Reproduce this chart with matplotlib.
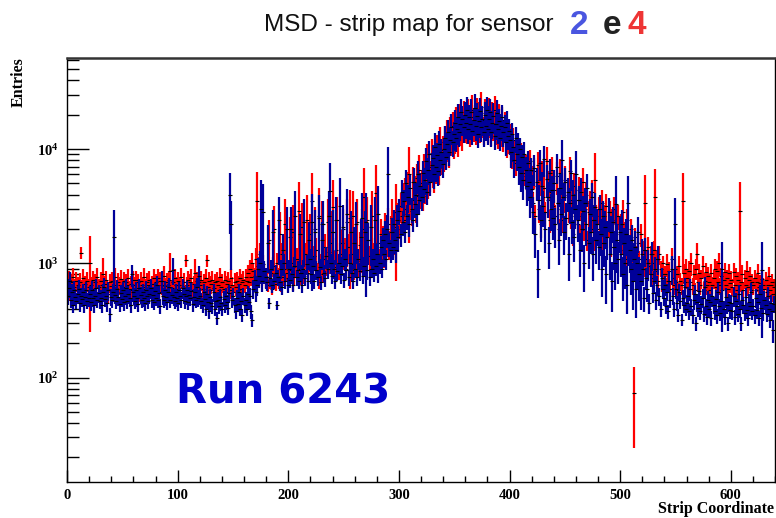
import numpy as np
import matplotlib
matplotlib.use('Agg')
import matplotlib.pyplot as plt
from matplotlib.ticker import LogLocator, FuncFormatter, MultipleLocator, NullFormatter

# entries per strip, sensor 2 (blue)
sensor2_entries = [
    520, 610, 700, 480, 560, 430, 590, 510, 470, 540, 600, 450, 520, 490, 560, 430, 510, 580, 470, 500,
    540, 460, 590, 500, 430, 520, 610, 480, 550, 470, 500, 430, 560, 620, 490, 520, 450, 580, 360, 510,
    480, 560, 1700, 530, 470, 600, 510, 440, 550, 490, 580, 460, 520, 610, 470, 540, 500, 430, 800, 560,
    520, 470, 580, 500, 440, 610, 530, 480, 560, 500, 450, 590, 520, 470, 540, 610, 480, 530, 460, 570,
    500, 640, 480, 550, 420, 700, 520, 480, 590, 510, 460, 560, 620, 480, 530, 880, 510, 470, 560, 500,
    450, 580, 520, 480, 610, 540, 470, 520, 590, 460, 530, 500, 570, 440, 510, 560, 480, 620, 500, 780,
    520, 470, 430, 560, 490, 400, 540, 460, 380, 510, 450, 420, 560, 400, 470, 330, 480, 420, 510, 450,
    400, 490, 430, 520, 460, 410, 550, 4000, 2200, 480, 520, 430, 380, 500, 440, 560, 400, 470, 350, 520,
    430, 480, 400, 540, 460, 520, 380, 320, 600, 720, 560, 650, 900, 780, 1000, 3000, 700, 2800, 850, 760,
    680, 1500, 450, 750, 900, 640, 1900, 700, 820, 430, 760, 2400, 680, 900, 620, 1300, 1000, 700, 2000, 640,
    900, 720, 2000, 800, 650, 950, 2600, 760, 880, 700, 1800, 820, 640, 900, 2300, 750, 980, 700, 1600, 1100,
    800, 2300, 950, 700, 1900, 880, 760, 2500, 920, 680, 1600, 2200, 820, 740, 1150, 900, 2600, 4300, 1000, 780,
    1900, 900, 700, 2400, 850, 1000, 3200, 800, 950, 2100, 720, 1100, 880, 2700, 760, 1000, 1900, 820, 700, 1500,
    900, 2200, 760, 1100, 850, 1700, 2500, 780, 950, 1900, 2300, 880, 1600, 760, 2100, 900, 1100, 820, 2400, 950,
    1200, 2700, 1000, 1400, 900, 1600, 1200, 1800, 1100, 2000, 6000, 1500, 1300, 1900, 1400, 2200, 1600, 1300, 2400, 1700,
    2900, 1800, 4200, 2300, 3500, 1900, 5000, 2600, 3800, 2200, 4600, 3000, 2400, 5200, 3300, 4000, 2700, 6000, 3600, 4800,
    3800, 6200, 4500, 5400, 7800, 4200, 6600, 9000, 5200, 7200, 8400, 6000, 10500, 7000, 8800, 6400, 11000, 8000, 9500, 7400,
    10000, 12500, 8600, 11000, 14000, 9500, 12000, 15500, 11500, 13500, 17000, 12500, 15000, 19000, 14000, 16500, 21000, 18500, 15500, 20000,
    17000, 22000, 15000, 19000, 16500, 21000, 14500, 18000, 23000, 16000, 19500, 13500, 17500, 21500, 15500, 18500, 14000, 20000, 16000, 22000,
    15000, 18500, 21000, 14000, 17000, 19500, 13000, 16500, 20500, 15000, 17500, 12500, 16000, 19000, 14000, 15500, 11500, 17000, 13000, 14500,
    12000, 9500, 13500, 10500, 8000, 12500, 9000, 11000, 7000, 10000, 6200, 8500, 5400, 9000, 6500, 4800, 7500, 5200, 3800, 6500,
    4500, 2800, 6800, 1800, 5200, 900, 3600, 7500, 2400, 4800, 3200, 8200, 2000, 5500, 3800, 1500, 6200, 3000, 4400, 2500,
    5000, 2200, 7000, 3400, 1600, 4600, 2700, 8000, 3800, 1900, 5200, 2500, 4200, 1200, 3400, 6200, 2300, 4000, 1700, 3000,
    6000, 2400, 3600, 1300, 4200, 2000, 2900, 1000, 3400, 2200, 4600, 1500, 2700, 1900, 3800, 1200, 2400, 3100, 1600, 2200,
    1400, 3000, 1800, 900, 2600, 1500, 2100, 800, 1700, 2800, 1200, 1900, 700, 2300, 1400, 1000, 3300, 1600, 1100, 1900,
    1200, 2200, 800, 1500, 1000, 1800, 650, 3400, 1300, 900, 1600, 700, 1100, 1400, 600, 1000, 1900, 800, 700, 1200,
    900, 500, 1300, 750, 600, 1000, 450, 800, 1200, 550, 700, 900, 480, 650, 1100, 520, 400, 750, 600, 500,
    650, 420, 560, 380, 700, 480, 900, 520, 400, 2200, 600, 450, 350, 560, 470, 320, 500, 430, 620, 400,
    450, 520, 380, 600, 420, 350, 480, 540, 300, 460, 410, 570, 380, 440, 500, 360, 620, 420, 340, 480,
    400, 460, 330, 520, 430, 380, 490, 350, 560, 420, 370, 470, 900, 400, 340, 510, 430, 300, 460, 390,
    450, 380, 520, 340, 470, 420, 360, 540, 400, 300, 480, 430, 370, 510, 390, 330, 460, 420, 560, 380,
    420, 350, 500, 390, 460, 330, 540, 410, 880, 370, 480, 430, 360, 520, 400, 320, 450, 380, 260, 440,
]
# relative error per strip (percent), sensor 2
sensor2_err_pct = [
    17, 19, 20, 16, 18, 15, 19, 17, 16, 18, 19, 16, 17, 16, 18, 15, 17, 19, 16, 17,
    18, 16, 19, 17, 15, 17, 20, 16, 18, 16, 17, 15, 18, 20, 16, 17, 16, 19, 14, 17,
    16, 18, 72, 17, 16, 19, 17, 15, 18, 16, 19, 16, 17, 20, 16, 18, 17, 15, 22, 18,
    17, 16, 19, 17, 15, 20, 17, 16, 18, 17, 15, 19, 17, 16, 18, 20, 16, 17, 15, 18,
    16, 20, 16, 18, 15, 22, 17, 16, 19, 17, 15, 18, 20, 16, 17, 26, 17, 16, 18, 17,
    15, 19, 17, 16, 20, 18, 16, 17, 19, 15, 17, 16, 18, 15, 17, 18, 16, 20, 17, 22,
    17, 16, 15, 18, 16, 14, 18, 15, 14, 17, 15, 15, 18, 14, 16, 13, 16, 15, 17, 15,
    14, 16, 15, 17, 15, 14, 18, 55, 60, 16, 17, 15, 14, 16, 15, 18, 14, 16, 13, 17,
    15, 16, 14, 18, 15, 17, 14, 13, 19, 22, 18, 20, 24, 22, 28, 78, 20, 75, 23, 21,
    15, 45, 11, 17, 19, 14, 55, 15, 18, 10, 16, 60, 15, 19, 14, 40, 21, 15, 55, 14,
    19, 15, 55, 17, 14, 20, 65, 16, 18, 15, 50, 17, 14, 19, 60, 16, 20, 15, 45, 22,
    17, 75, 20, 15, 55, 18, 16, 60, 19, 14, 45, 60, 17, 16, 22, 19, 65, 76, 20, 16,
    55, 19, 15, 60, 18, 20, 75, 17, 19, 55, 15, 22, 18, 65, 16, 20, 50, 17, 15, 40,
    18, 55, 16, 21, 18, 45, 65, 16, 19, 50, 78, 18, 40, 16, 55, 18, 22, 17, 60, 19,
    22, 75, 19, 25, 18, 28, 22, 30, 20, 32, 75, 24, 22, 30, 23, 32, 25, 22, 34, 26,
    26, 22, 28, 24, 26, 21, 30, 24, 27, 22, 29, 25, 22, 31, 25, 27, 23, 32, 26, 28,
    24, 28, 25, 26, 30, 23, 27, 32, 25, 28, 29, 26, 32, 27, 29, 25, 30, 27, 28, 25,
    26, 28, 24, 27, 29, 25, 27, 30, 26, 28, 30, 25, 27, 31, 26, 28, 31, 29, 27, 30,
    28, 31, 26, 29, 27, 30, 25, 28, 32, 26, 29, 24, 28, 31, 26, 29, 25, 30, 27, 31,
    27, 29, 31, 25, 28, 30, 24, 27, 30, 26, 28, 23, 27, 29, 25, 27, 24, 28, 25, 26,
    26, 28, 25, 27, 30, 26, 29, 27, 31, 26, 32, 28, 33, 27, 31, 34, 28, 32, 35, 29,
    32, 36, 30, 38, 32, 45, 34, 30, 36, 32, 35, 30, 38, 32, 35, 40, 32, 36, 33, 36,
    32, 38, 30, 35, 40, 32, 36, 50, 34, 38, 32, 36, 33, 42, 35, 30, 36, 33, 40, 34,
    60, 36, 33, 42, 32, 37, 34, 44, 33, 36, 32, 40, 35, 37, 33, 42, 35, 33, 38, 36,
    38, 33, 36, 44, 34, 38, 36, 45, 37, 33, 40, 36, 46, 35, 38, 42, 75, 37, 40, 35,
    37, 34, 42, 36, 40, 35, 45, 72, 37, 41, 36, 44, 38, 37, 45, 40, 35, 42, 44, 37,
    30, 25, 28, 22, 24, 30, 20, 22, 28, 18, 22, 26, 18, 20, 28, 18, 15, 22, 18, 16,
    20, 15, 17, 14, 22, 16, 28, 17, 15, 70, 18, 15, 13, 17, 16, 12, 16, 15, 19, 14,
    18, 20, 16, 22, 17, 15, 19, 20, 14, 18, 17, 21, 16, 18, 19, 15, 22, 17, 15, 19,
    17, 18, 15, 20, 17, 16, 19, 15, 21, 17, 16, 18, 72, 17, 15, 20, 17, 14, 18, 16,
    18, 16, 20, 15, 18, 17, 15, 20, 17, 14, 19, 17, 16, 20, 16, 15, 18, 17, 21, 16,
    17, 15, 19, 16, 18, 15, 20, 17, 75, 16, 19, 17, 15, 20, 16, 15, 18, 16, 23, 17,
]

# entries per strip, sensor 4 (red)
sensor4_entries = [
    600, 720, 560, 680, 540, 760, 620, 580, 700, 650, 560, 690, 1230, 610, 740, 580, 660, 530, 700, 620,
    1000, 640, 580, 720, 600, 680, 550, 760, 620, 590, 700, 640, 800, 570, 660, 720, 600, 540, 680, 630,
    700, 590, 650, 760, 610, 560, 690, 640, 730, 580, 620, 700, 550, 680, 640, 750, 600, 660, 580, 710,
    640, 580, 720, 610, 680, 550, 700, 650, 600, 760, 620, 560, 690, 640, 720, 590, 660, 610, 740, 580,
    680, 620, 740, 560, 700, 650, 600, 780, 630, 570, 690, 640, 720, 850, 610, 680, 560, 740, 650, 600,
    700, 640, 580, 760, 620, 690, 560, 1060, 650, 720, 600, 680, 740, 590, 660, 820, 620, 700, 580, 680,
    640, 720, 600, 680, 560, 740, 1060, 620, 700, 580, 660, 720, 610, 680, 540, 700, 640, 590, 760, 620,
    680, 600, 720, 560, 660, 700, 620, 580, 740, 640, 560, 690, 620, 700, 580, 660, 740, 600, 680, 720,
    640, 760, 700, 820, 680, 900, 760, 1000, 860, 780, 1100, 3500, 950, 820, 1200, 880, 760, 980, 840, 720,
    760, 640, 1600, 700, 820, 600, 940, 2000, 660, 1000, 780, 700, 1800, 640, 1200, 760, 900, 2200, 820, 740,
    880, 1700, 1000, 800, 1900, 760, 940, 1100, 820, 2900, 900, 760, 2100, 880, 780, 1200, 2400, 820, 1100, 1800,
    1000, 3500, 880, 1150, 2000, 1300, 860, 2600, 1000, 920, 2200, 800, 1100, 1400, 950, 2300, 1250, 1000, 1500, 1900,
    3100, 1050, 920, 1300, 2400, 860, 1200, 1000, 1500, 2000, 1150, 1300, 900, 2300, 1400, 2500, 980, 1200, 2600, 880,
    1300, 1000, 2300, 900, 1450, 1050, 2000, 950, 3800, 1100, 1300, 2400, 1600, 1150, 900, 2600, 1200, 1050, 1300, 4100,
    1200, 1500, 1100, 1800, 1300, 1600, 1200, 2000, 1400, 1700, 2200, 1500, 1900, 2500, 1600, 2100, 1800, 2800, 2000, 2400,
    2200, 3200, 2600, 3800, 2400, 4200, 3000, 2700, 4800, 6000, 3400, 2900, 5200, 3600, 4400, 3100, 5600, 3900, 6600, 4300,
    5000, 3900, 6800, 4700, 5600, 8200, 5200, 7000, 6000, 9200, 6600, 5800, 8800, 7200, 10000, 7800, 6800, 11500, 8600, 9800,
    9000, 12000, 10000, 13500, 11000, 9500, 14500, 12500, 16000, 11500, 13000, 17500, 14000, 12000, 18500, 15500, 17000, 13500, 19500, 16500,
    18000, 15500, 20500, 17000, 14500, 19000, 22000, 16500, 18500, 15000, 21000, 17500, 19500, 16000, 23500, 18000, 15000, 20500, 17000, 19000,
    16000, 21000, 18000, 14500, 19500, 16500, 22000, 15000, 17500, 13500, 19000, 16000, 14000, 18000, 12500, 16500, 15000, 11000, 14000, 12000,
    13000, 10500, 8800, 12000, 9500, 7500, 11000, 8500, 10000, 6800, 9000, 5800, 8000, 6200, 7200, 4500, 6800, 5000, 7800, 4200,
    5600, 3400, 6400, 2600, 4800, 7200, 3000, 5400, 2200, 6000, 3800, 4600, 2800, 7800, 3600, 5000, 2400, 4200, 6500, 3200,
    4400, 2600, 5800, 3400, 2000, 6200, 3000, 4800, 2400, 3800, 5400, 2200, 4000, 3000, 6400, 2600, 3600, 1800, 4800, 2800,
    3600, 2200, 4400, 1800, 3200, 2600, 5200, 2000, 3000, 4000, 1600, 2800, 3400, 2000, 4200, 2400, 1600, 5400, 2600, 2000,
    3000, 1800, 2400, 3400, 1500, 2600, 2000, 3200, 1700, 2200, 2800, 1400, 2400, 1900, 3000, 1600, 2200, 1300, 2600, 1800,
    2200, 1500, 2800, 1300, 1900, 1100, 2400, 1600, 1200, 2000, 1400, 1000, 74, 1700, 1200, 950, 1500, 1100, 1800, 1000,
    1300, 900, 3400, 1100, 800, 1400, 950, 1200, 750, 1000, 1300, 3800, 850, 1100, 700, 1200, 900, 650, 1000, 800,
    800, 640, 980, 700, 860, 600, 1100, 740, 640, 900, 680, 800, 580, 950, 700, 640, 3500, 820, 690, 900,
    740, 620, 860, 690, 1000, 640, 800, 580, 900, 1200, 690, 820, 640, 740, 950, 590, 700, 840, 640, 780,
    690, 580, 820, 650, 740, 900, 620, 860, 690, 1000, 640, 770, 580, 710, 840, 640, 740, 600, 820, 670,
    720, 620, 840, 650, 770, 580, 710, 640, 2900, 690, 800, 590, 740, 650, 860, 620, 710, 780, 580, 690,
    640, 740, 580, 690, 820, 620, 670, 560, 730, 640, 600, 710, 560, 650, 780, 580, 640, 690, 540, 620,
]
# relative error per strip (percent), sensor 4
sensor4_err_pct = [
    18, 20, 16, 19, 16, 21, 18, 17, 20, 18, 16, 19, 12, 17, 20, 16, 18, 16, 19, 18,
    75, 18, 17, 20, 17, 19, 16, 21, 18, 17, 19, 18, 38, 16, 18, 20, 17, 16, 19, 18,
    19, 17, 18, 21, 17, 16, 19, 18, 20, 17, 18, 19, 16, 19, 18, 20, 17, 18, 16, 20,
    18, 17, 20, 17, 19, 16, 19, 18, 17, 21, 18, 16, 19, 18, 20, 17, 18, 17, 20, 16,
    19, 18, 20, 16, 19, 18, 17, 21, 18, 16, 19, 18, 20, 45, 17, 19, 16, 20, 18, 17,
    19, 18, 16, 21, 17, 19, 16, 12, 18, 20, 17, 19, 20, 17, 18, 34, 17, 19, 16, 19,
    18, 20, 17, 19, 16, 20, 12, 17, 19, 16, 18, 20, 17, 19, 16, 19, 18, 17, 21, 17,
    19, 17, 20, 16, 18, 19, 17, 16, 20, 18, 16, 19, 17, 19, 16, 18, 20, 17, 19, 20,
    14, 17, 15, 18, 14, 20, 16, 22, 18, 16, 24, 80, 20, 17, 26, 18, 16, 21, 18, 15,
    16, 13, 50, 15, 17, 12, 20, 60, 14, 22, 16, 15, 55, 13, 26, 16, 19, 65, 17, 15,
    18, 50, 21, 16, 70, 15, 19, 23, 17, 78, 18, 15, 60, 18, 16, 25, 65, 17, 23, 50,
    20, 77, 18, 24, 55, 27, 17, 77, 20, 19, 60, 16, 23, 29, 19, 60, 26, 20, 31, 50,
    74, 21, 18, 27, 60, 17, 25, 20, 31, 50, 24, 27, 18, 60, 29, 76, 20, 25, 65, 18,
    27, 20, 60, 18, 30, 21, 50, 19, 79, 23, 27, 60, 33, 24, 18, 65, 25, 21, 27, 78,
    24, 30, 22, 35, 26, 32, 24, 38, 27, 33, 40, 29, 36, 45, 30, 38, 34, 75, 36, 40,
    26, 30, 27, 32, 25, 33, 28, 26, 32, 75, 29, 27, 33, 28, 31, 27, 33, 29, 34, 30,
    30, 27, 32, 29, 30, 34, 29, 32, 30, 34, 31, 29, 33, 31, 34, 31, 29, 35, 31, 33,
    30, 33, 30, 32, 30, 28, 32, 30, 33, 29, 31, 34, 31, 29, 33, 31, 32, 29, 34, 31,
    32, 29, 33, 31, 28, 32, 34, 30, 32, 28, 33, 30, 32, 29, 34, 31, 28, 33, 30, 31,
    29, 33, 31, 27, 32, 29, 33, 27, 30, 26, 31, 28, 26, 30, 25, 28, 27, 24, 27, 25,
    27, 25, 24, 28, 25, 23, 27, 24, 26, 22, 25, 22, 25, 23, 24, 21, 24, 22, 26, 21,
    28, 25, 30, 24, 27, 32, 25, 28, 24, 30, 26, 28, 24, 33, 26, 28, 23, 27, 31, 25,
    28, 24, 32, 26, 22, 33, 25, 29, 23, 27, 31, 22, 28, 25, 33, 23, 26, 21, 29, 24,
    27, 22, 29, 20, 26, 24, 31, 22, 26, 28, 20, 25, 27, 21, 29, 23, 20, 72, 24, 22,
    26, 20, 23, 28, 19, 24, 21, 27, 20, 23, 26, 19, 24, 21, 27, 20, 24, 18, 25, 21,
    23, 20, 28, 18, 22, 17, 25, 20, 18, 23, 19, 16, 67, 21, 18, 16, 20, 17, 22, 16,
    20, 16, 75, 17, 15, 21, 16, 19, 14, 17, 20, 75, 15, 18, 14, 19, 16, 13, 17, 15,
    19, 17, 22, 18, 20, 16, 23, 19, 17, 21, 18, 19, 16, 21, 18, 17, 77, 20, 18, 21,
    19, 17, 21, 18, 23, 17, 20, 16, 21, 25, 18, 20, 17, 19, 22, 16, 18, 20, 17, 19,
    18, 16, 20, 17, 19, 22, 17, 21, 18, 23, 17, 19, 16, 18, 20, 17, 19, 16, 20, 18,
    19, 17, 20, 18, 19, 16, 18, 17, 76, 18, 20, 16, 19, 18, 21, 17, 18, 20, 16, 18,
    17, 19, 16, 18, 20, 17, 18, 16, 19, 17, 16, 18, 16, 17, 20, 16, 17, 18, 15, 17,
]

N_STRIPS = 640

plt.rcParams['mathtext.fontset'] = 'custom'
plt.rcParams['mathtext.rm'] = 'Liberation Serif'
plt.rcParams['mathtext.bf'] = 'Liberation Serif:bold'

fig = plt.figure(figsize=(7.76, 5.18), dpi=100)
ax = fig.add_axes([67 / 776, 1 - 482 / 518, 708 / 776, 424 / 518])


def draw_hist(entries, err_pct, color):
    y = np.array(entries, dtype=float)
    err = y * np.array(err_pct, dtype=float) / 100.0
    x = np.arange(len(y)) + 0.5  # bin centres
    ax.errorbar(x, y, yerr=err, fmt='none', ecolor=color, elinewidth=1.6, capsize=0)
    ax.plot(x, y, ls='none', marker='_', ms=2.6, mew=0.8, color='black')


draw_hist(sensor4_entries, sensor4_err_pct, '#ff0000')
draw_hist(sensor2_entries, sensor2_err_pct, '#000099')

ax.set_yscale('log')
ax.set_xlim(0, N_STRIPS)
ax.set_ylim(12.2, 62700)

ax.xaxis.set_major_locator(MultipleLocator(100))
ax.xaxis.set_minor_locator(MultipleLocator(20))
ax.yaxis.set_major_locator(LogLocator(base=10))
ax.yaxis.set_minor_locator(LogLocator(base=10, subs=np.arange(2, 10)))
ax.yaxis.set_minor_formatter(NullFormatter())
ax.yaxis.set_major_formatter(FuncFormatter(lambda v, p: r'$\mathbf{10^{%d}}$' % round(np.log10(v))))

ax.tick_params(axis='y', which='major', direction='in', length=16, width=1, pad=6, labelsize=10.5)
ax.tick_params(axis='y', which='minor', direction='in', length=8.5, width=1)
ax.tick_params(axis='x', which='major', direction='in', length=8.5, width=1, pad=5, labelsize=10.5)
ax.tick_params(axis='x', which='minor', direction='in', length=4.3, width=1)
for lab in ax.get_xticklabels():
    lab.set_family('Liberation Serif')
    lab.set_weight('bold')

for side in ['left', 'bottom', 'right']:
    ax.spines[side].set_linewidth(1.0)
ax.spines['top'].set_linewidth(1.8)
ax.spines['top'].set_color('#333333')

# axis titles (ROOT style: top-left and bottom-right)
fig.text(19 / 776, 1 - 57 / 518, 'Entries', rotation=90, ha='center', va='top',
         family='Liberation Serif', weight='bold', fontsize=11.5)
fig.text(774 / 776, 1 - 513 / 518, 'Strip Coordinate', ha='right', va='baseline',
         family='Liberation Serif', weight='bold', fontsize=11.5)

# title with coloured sensor ids
fig.text(264 / 776, 1 - 31 / 518, 'MSD - strip map for sensor', ha='left', va='baseline',
         family='Liberation Sans', fontsize=17.5, color='#111111')
fig.text(570 / 776, 1 - 34 / 518, '2', ha='left', va='baseline',
         family='Liberation Sans', weight='bold', fontsize=24, color='#4a56e0')
fig.text(603 / 776, 1 - 34 / 518, 'e', ha='left', va='baseline',
         family='Liberation Sans', weight='bold', fontsize=24, color='#222222')
fig.text(628 / 776, 1 - 34 / 518, '4', ha='left', va='baseline',
         family='Liberation Sans', weight='bold', fontsize=24, color='#ee3535')

fig.text(176 / 776, 1 - 404 / 518, 'Run 6243', ha='left', va='baseline',
         family='DejaVu Sans', weight='bold', fontsize=29, color='#0000cc')

fig.savefig('out.png', dpi=100, facecolor='white')
